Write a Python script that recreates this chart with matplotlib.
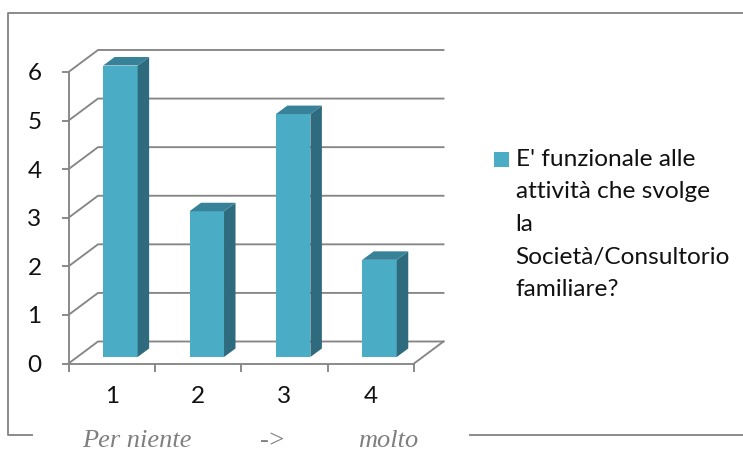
import matplotlib
matplotlib.use("Agg")
import matplotlib.pyplot as plt
from matplotlib.patches import Polygon, Rectangle
from matplotlib.lines import Line2D

categories = [1, 2, 3, 4]
values = [6, 3, 5, 2]
y_ticks = [0, 1, 2, 3, 4, 5, 6]
legend_label = "E' funzionale alle\nattività che svolge\nla\nSocietà/Consultorio\nfamiliare?"
axis_note = ["Per niente", "->", "molto"]

W, H = 743, 453
FRONT, SIDE, TOP, GRID = "#4BACC6", "#2F6B7E", "#388299", "#868686"
LW = 1.35

fig = plt.figure(figsize=(W / 100, H / 100), dpi=100, facecolor="white")

# page-level overlay in pixel coordinates
page = fig.add_axes([0, 0, 1, 1], zorder=3)
page.set_xlim(0, W)
page.set_ylim(H, 0)
page.axis("off")
page.patch.set_alpha(0)
for xs, ys in [((743, 8, 8, 32), (13, 13, 435, 435)), ((470, 743), (435, 435))]:
    page.add_line(Line2D(xs, ys, color=GRID, lw=LW))
page.add_patch(Rectangle((494, 152), 15, 15, facecolor=FRONT, edgecolor="none"))
page.text(515.5, 224.5, legend_label, family="Lato", fontsize=17.6, color="#111111",
          va="center", ha="left", linespacing=1.68)
for s, x in zip(axis_note, (137, 272, 388)):
    page.text(x, 447, s, family="Liberation Serif", style="italic", fontsize=19,
              color="#7F7F7F", ha="center", va="baseline")

# chart axes: front plane of the 3D box
ax = fig.add_axes([68.5 / W, 1 - 363.5 / H, (414 - 68.5) / W, (363.5 - 72) / H])
ax.set_xlim(0.5, 4.5)
ax.set_ylim(0, 6)
px_x = 4 / (414 - 68.5)
px_y = 6 / (363.5 - 72)
dx, dy = 29.5 * px_x, 22 * px_y          # depth of the box
bx, by = 11.5 * px_x, 8.5 * px_y         # depth of a bar
off_x, off_y = 8.7 * px_x, 6.5 * px_y    # bar offset in the box
bw = 34.5 * px_x

for v in y_ticks:
    ax.add_line(Line2D([0.5, 0.5 + dx, 4.5 + dx], [v, v + dy, v + dy], color=GRID,
                       lw=LW, clip_on=False, zorder=1, solid_joinstyle="miter"))
ax.add_line(Line2D([4.5, 4.5 + dx], [0, dy], color=GRID, lw=LW, clip_on=False, zorder=1))

for c, v in zip(categories, values):
    x0 = c + off_x - bw / 2
    x1 = x0 + bw
    ax.bar(c + off_x, v, width=bw, bottom=off_y, color=FRONT, zorder=3, clip_on=False)
    top = off_y + v
    ax.add_patch(Polygon([(x1, off_y), (x1 + bx, off_y + by), (x1 + bx, top + by), (x1, top)],
                         facecolor=SIDE, edgecolor="none", zorder=3, clip_on=False))
    ax.add_patch(Polygon([(x0, top), (x0 + bx, top + by), (x1 + bx, top + by), (x1, top)],
                         facecolor=TOP, edgecolor="none", zorder=3, clip_on=False))

for s in ("top", "right"):
    ax.spines[s].set_visible(False)
for s in ("left", "bottom"):
    ax.spines[s].set_color(GRID)
    ax.spines[s].set_linewidth(LW)
ax.patch.set_alpha(0)
ax.set_yticks(y_ticks)
ax.set_yticklabels([str(v) for v in y_ticks], family="Lato", fontsize=17.5, color="#111111")
ax.set_xticks(categories)
ax.set_xticklabels([str(c) for c in categories], family="Lato", fontsize=17.5, color="#111111")
ax.set_xticks([0.5, 1.5, 2.5, 3.5, 4.5], minor=True)
ax.tick_params(axis="x", which="major", length=0, pad=16)
ax.tick_params(axis="x", which="minor", length=5.8, width=LW, color=GRID)
ax.tick_params(axis="y", length=5.4, width=LW, color=GRID, pad=14)

fig.savefig("out.png", dpi=100)
